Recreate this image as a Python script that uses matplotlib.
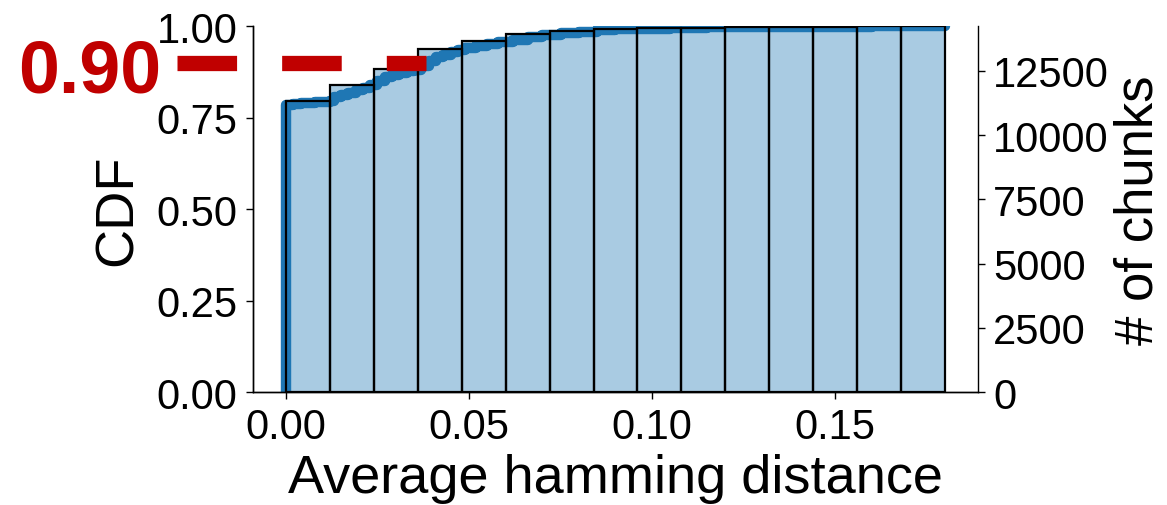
import numpy as np
import matplotlib
matplotlib.use("Agg")
import matplotlib.pyplot as plt
from matplotlib.lines import Line2D

plt.rcParams['font.family'] = ['Liberation Sans', 'DejaVu Sans']

# cumulative histogram: bin width and cumulative chunk counts per bin
bin_width = 0.012
cum_counts = [11315, 11970, 12583, 13352, 13652, 13937, 14051, 14136,
              14165, 14179, 14193, 14207, 14222, 14236, 14250]
total_chunks = 14250

cdf_x = [0.0, 0.0, 0.002, 0.004, 0.006, 0.008, 0.010, 0.012, 0.013, 0.015,
         0.017, 0.019, 0.021, 0.023, 0.025, 0.027, 0.029, 0.031, 0.033,
         0.035, 0.037, 0.039, 0.041, 0.043, 0.045, 0.047, 0.049, 0.052,
         0.055, 0.058, 0.062, 0.066, 0.070, 0.075, 0.080, 0.085, 0.090,
         0.096, 0.105, 0.115, 0.130, 0.145, 0.160, 0.175, 0.180]
cdf_y = [0.0, 0.785, 0.787, 0.789, 0.790, 0.792, 0.793, 0.796, 0.805, 0.812,
         0.818, 0.824, 0.830, 0.838, 0.850, 0.860, 0.866, 0.871, 0.876,
         0.881, 0.892, 0.905, 0.914, 0.921, 0.928, 0.935, 0.940, 0.946,
         0.952, 0.957, 0.963, 0.970, 0.976, 0.981, 0.985, 0.988, 0.991,
         0.993, 0.995, 0.996, 0.997, 0.998, 0.999, 0.9995, 1.0]

threshold = 0.90
x_ticks = [0.00, 0.05, 0.10, 0.15]
cdf_ticks = [0.00, 0.25, 0.50, 0.75, 1.00]
count_ticks = [0, 2500, 5000, 7500, 10000, 12500]

blue = '#1f77b4'
red = '#c00000'

fig = plt.figure(figsize=(11.67, 5.06), dpi=100)
fig.subplots_adjust(left=0.2168, right=0.838, bottom=0.2233, top=0.9466)
ax1 = fig.add_subplot(111)
ax2 = ax1.twinx()

ax1.plot(cdf_x, cdf_y, drawstyle='steps-post', color=blue, lw=7.5,
         solid_joinstyle='round', solid_capstyle='round')

left_edges = np.arange(len(cum_counts)) * bin_width
ax2.bar(left_edges, cum_counts, width=bin_width, align='edge',
        color=blue, alpha=0.38, edgecolor='none')
ax2.bar(left_edges, cum_counts, width=bin_width, align='edge',
        facecolor='none', edgecolor='black', lw=1.6)

# 0.90 marker line, drawn above the bars
x_hit = np.interp(threshold, cdf_y[1:], cdf_x[1:])
ax2.add_line(Line2D([-0.0297, x_hit], [threshold, threshold],
                    transform=ax1.transData, color=red, lw=11,
                    linestyle=(0, (3.9, 2.95)), clip_on=False))
ax2.text(-0.0341, 0.8205, '0.90', transform=ax1.transData,
         ha='right', va='baseline', color=red, fontsize=53,
         fontweight='bold', clip_on=False)

ax1.set_xlim(-0.009, 0.189)
ax1.set_ylim(0, 1)
ax2.set_ylim(0, total_chunks)

ax1.set_xticks(x_ticks)
ax1.set_xticklabels([f'{v:.2f}' for v in x_ticks])
ax1.set_yticks(cdf_ticks)
ax1.set_yticklabels([f'{v:.2f}' for v in cdf_ticks])
ax2.set_yticks(count_ticks)

for ax in (ax1, ax2):
    ax.spines['top'].set_visible(False)
    for s in ax.spines.values():
        s.set_linewidth(1.0)
    ax.tick_params(labelsize=30, length=5, width=1.0, pad=6)
ax1.spines['right'].set_visible(False)

ax1.set_xlabel('Average hamming distance', fontsize=39, labelpad=4)
ax1.set_ylabel('CDF', fontsize=39, labelpad=10)
ax2.set_ylabel('# of chunks', fontsize=38, labelpad=3)

fig.savefig('out.png', dpi=100)
